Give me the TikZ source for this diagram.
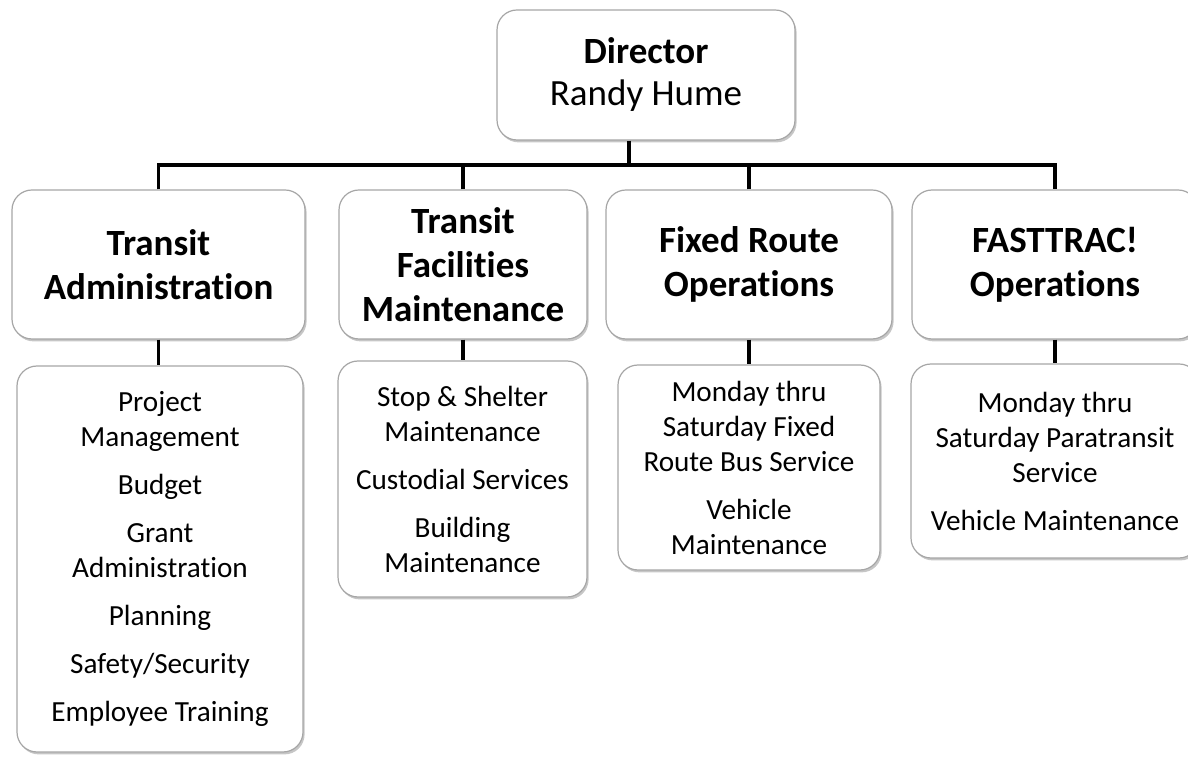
\documentclass[tikz,border=0pt]{standalone}
\usepackage{fontspec}
\setmainfont{Carlito}[Ligatures=NoCommon]
\usetikzlibrary{shadows}

\begin{document}
\begin{tikzpicture}[x=0.5pt,y=-0.5pt,
        box/.style={draw=gray!70, line width=0.6pt, fill=white, rounded corners=10pt,
            drop shadow={shadow xshift=0.8pt, shadow yshift=-1.2pt, opacity=0.45, fill=gray},
            align=center, inner sep=2pt},
        head/.style={box, font=\fontsize{18.5}{22}\selectfont\bfseries},
        duties/.style={box, font=\fontsize{14.6}{17.5}\selectfont},
        link/.style={line width=1.7pt, black}]
        \useasboundingbox (0,0) rectangle (1188,758);
        % director
        \node[box, font=\fontsize{18.5}{21}\selectfont, minimum width=149pt, minimum height=65pt]
            (dir) at (646,75) {{\bfseries Director}\\Randy Hume};
        \coordinate (hub) at (629,165);
        % divisions
        \node[head, minimum width=146.5pt, minimum height=74.5pt] (adm) at (158.5,264.5) {Transit\\Administration};
        \node[head, minimum width=124pt, minimum height=74.5pt] (fac) at (463,264.5) {Transit\\Facilities\\Maintenance};
        \node[head, minimum width=143pt, minimum height=74.5pt] (fix) at (749,264.5) {Fixed Route\\Operations};
        \node[head, minimum width=143pt, minimum height=74.5pt] (fast) at (1055,264.5) {FASTTRAC!\\Operations};
        % duties
        \node[duties, minimum width=143pt, minimum height=193pt] (admL) at (160,559)
            {Project\\Management\\[6.5pt]Budget\\[6.5pt]Grant\\Administration\\[6.5pt]Planning\\[6.5pt]Safety/Security\\[6.5pt]Employee Training};
        \node[duties, minimum width=124.5pt, minimum height=118pt] (facL) at (462.5,479)
            {Stop \& Shelter\\Maintenance\\[6.5pt]Custodial Services\\[6.5pt]Building\\Maintenance};
        \node[duties, minimum width=131pt, minimum height=102.5pt] (fixL) at (749,467.5)
            {Monday thru\\Saturday Fixed\\Route Bus Service\\[6.5pt]Vehicle\\Maintenance};
        \node[duties, minimum width=144pt, minimum height=97pt] (fastL) at (1055,461)
            {Monday thru\\Saturday Paratransit\\Service\\[6.5pt]Vehicle Maintenance};
        % connectors
        \draw[link] (hub |- dir.south) -- (hub);
        \draw[link] (adm.north) -- (adm.north |- hub) -- (fast.north |- hub) -- (fast.north);
        \draw[link] (fac.north) -- (fac.north |- hub);
        \draw[link] (fix.north) -- (fix.north |- hub);
        \draw[link] (adm.south) -- (adm.south |- admL.north);
        \draw[link] (fac.south) -- (fac.south |- facL.north);
        \draw[link] (fix.south) -- (fix.south |- fixL.north);
        \draw[link] (fast.south) -- (fast.south |- fastL.north);
    \end{tikzpicture}
\end{document}
